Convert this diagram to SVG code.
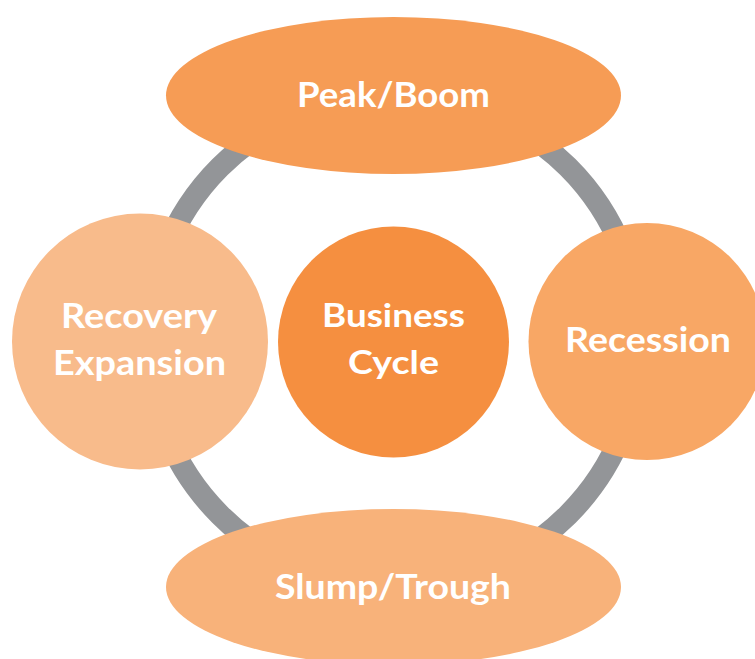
<svg xmlns="http://www.w3.org/2000/svg" width="755" height="659" viewBox="0 0 755 659">
<style>
.lbl{font-family:Lato,"Open Sans","Liberation Sans",sans-serif;font-weight:bold;fill:#FFFFFF;text-anchor:middle}
</style>
<rect width="755" height="659" fill="#FFFFFF"/>
<g id="connectors">
<circle cx="394" cy="341" r="246" fill="none" stroke="#939598" stroke-width="22"/>
</g>
<g id="peak">
<ellipse cx="393.5" cy="95.5" rx="227.5" ry="78.5" fill="#F69C55"/>
<text class="lbl" x="393.5" y="106.5" font-size="35" textLength="193" lengthAdjust="spacingAndGlyphs">Peak/Boom</text>
</g>
<g id="recovery">
<circle cx="140" cy="341.5" r="128" fill="#F8BB8B"/>
<text class="lbl" x="139" y="328" font-size="35" textLength="156" lengthAdjust="spacingAndGlyphs">Recovery</text>
<text class="lbl" x="139.5" y="375" font-size="35" textLength="173" lengthAdjust="spacingAndGlyphs">Expansion</text>
</g>
<g id="center">
<circle cx="393.5" cy="342" r="115.5" fill="#F58F40"/>
<text class="lbl" x="393.5" y="326.5" font-size="33" textLength="143" lengthAdjust="spacingAndGlyphs">Business</text>
<text class="lbl" x="393.5" y="374" font-size="33" textLength="91" lengthAdjust="spacingAndGlyphs">Cycle</text>
</g>
<g id="recession">
<circle cx="647" cy="341.5" r="118.5" fill="#F8A765"/>
<text class="lbl" x="648" y="351.5" font-size="35" textLength="166" lengthAdjust="spacingAndGlyphs">Recession</text>
</g>
<g id="slump">
<ellipse cx="393.5" cy="587" rx="227.5" ry="78" fill="#F8B27A"/>
<text class="lbl" x="393" y="599" font-size="35" textLength="236" lengthAdjust="spacingAndGlyphs">Slump/Trough</text>
</g>
</svg>
